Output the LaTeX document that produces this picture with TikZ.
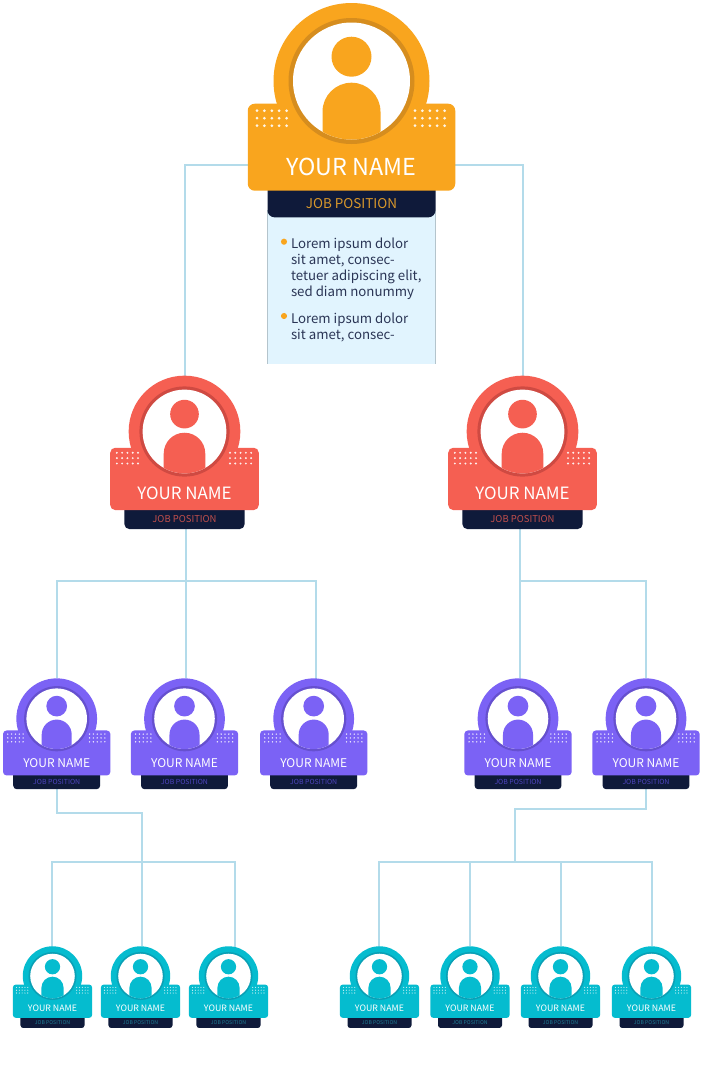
\documentclass[tikz,border=0pt]{standalone}
\usepackage{fontspec}
\setmainfont{Noto Sans CJK SC}
\usetikzlibrary{backgrounds}
\definecolor{orgM}{HTML}{F9A51E}\definecolor{orgD}{HTML}{D68D1E}\definecolor{orgJ}{HTML}{D8972B}
\definecolor{redM}{HTML}{F55F52}\definecolor{redD}{HTML}{CF4A42}\definecolor{redJ}{HTML}{C24F4C}
\definecolor{purM}{HTML}{7B62F5}\definecolor{purD}{HTML}{6650CF}\definecolor{purJ}{HTML}{4F45C0}
\definecolor{teaM}{HTML}{05BCCF}\definecolor{teaD}{HTML}{0AA0B5}\definecolor{teaJ}{HTML}{1F7E95}
\definecolor{bandC}{HTML}{0F1A3A}\definecolor{lineC}{HTML}{B3DBEA}\definecolor{paneC}{HTML}{E1F4FE}
\definecolor{paneE}{HTML}{B4C4CC}\definecolor{txtC}{HTML}{2A3555}
\tikzset{
  conn/.style={draw=lineC,line width=1.5pt},
  blank/.style={inner sep=0pt,outer sep=0pt},
  infotext/.style={blank,anchor=north west,align=left,text=txtC,font=\fontsize{9.95}{12}\selectfont},
  bulletdot/.style={blank,circle,fill=orgM,minimum size=4.6pt}
}
% #1 name #2 cx #3 cy #4 scale #5 main #6 dark #7 job colour #8 name size #9 job size
\newcommand{\staffcard}[9]{%
 \begin{scope}[shift={(#2,#3)},x={#4*0.75pt},y={-#4*0.75pt}]
  \pgfmathsetmacro{\uu}{#4*0.75}
  \node[blank,circle,fill=#5,minimum size=\uu*156pt] (#1ring) at (0,0) {};
  \node[blank,rectangle,fill=bandC,rounded corners=\uu*7pt,minimum width=\uu*168pt,minimum height=\uu*37.3pt] (#1band) at (0,117.65) {};
  \node[blank,rectangle,fill=#5,rounded corners=\uu*7pt,minimum width=\uu*207.5pt,minimum height=\uu*87pt] (#1card) at (0,66.2) {};
  \node[blank,circle,fill=#6,minimum size=\uu*126pt] (#1rim) at (0,0) {};
  \node[blank,circle,fill=white,minimum size=\uu*117pt] (#1face) at (0,0) {};
  \begin{scope}
   \clip (0,0) circle (58.5);
   \fill[#5] (-29,62) -- (-29,30.7) .. controls (-29,14.7) and (-16,1.7) .. (0,1.7) .. controls (16,1.7) and (29,14.7) .. (29,30.7) -- (29,62) -- cycle;
  \end{scope}
  \node[blank,circle,fill=#5,minimum size=\uu*40pt] (#1head) at (0,-24.3) {};
  \foreach \cl in {-94.5,-87.1,-79.7,-72.3,-64.9,63.5,70.9,78.3,85.7,93.1}
   \foreach \rw in {29.7,37.2,44.7}
    \fill[white,opacity=.9] (\cl,\rw) circle (1.5);
  \node[blank,text=white,font=\fontsize{#8}{#8}\selectfont] (#1name) at (0,85.7) {YOUR NAME};
  \node[blank,text=#7,font=\fontsize{#9}{#9}\selectfont] (#1job) at (0,122.5) {JOB POSITION};
 \end{scope}}
\begin{document}
\begin{tikzpicture}[x=0.75pt,y=-0.75pt]
\useasboundingbox (0,0) rectangle (702,1079);
\staffcard{ceo}{351.5}{81}{1}{orgM}{orgD}{orgJ}{17.5}{10.1}
\staffcard{rA}{184.5}{431.5}{.716}{redM}{redD}{redJ}{12.7}{7.1}
\staffcard{rB}{522.5}{431.5}{.716}{redM}{redD}{redJ}{12.7}{7.1}
\staffcard{pA}{56.7}{718.7}{.5175}{purM}{purD}{purJ}{9}{5.2}
\staffcard{pB}{184.5}{718.7}{.5175}{purM}{purD}{purJ}{9}{5.2}
\staffcard{pC}{313.7}{718.7}{.5175}{purM}{purD}{purJ}{9}{5.2}
\staffcard{pD}{518}{718.7}{.5175}{purM}{purD}{purJ}{9}{5.2}
\staffcard{pE}{646}{718.7}{.5175}{purM}{purD}{purJ}{9}{5.2}
\staffcard{tA}{52.5}{976}{.381}{teaM}{teaD}{teaJ}{6.6}{3.9}
\staffcard{tB}{140.5}{976}{.381}{teaM}{teaD}{teaJ}{6.6}{3.9}
\staffcard{tC}{228.5}{976}{.381}{teaM}{teaD}{teaJ}{6.6}{3.9}
\staffcard{tD}{379.5}{976}{.381}{teaM}{teaD}{teaJ}{6.6}{3.9}
\staffcard{tE}{470}{976}{.381}{teaM}{teaD}{teaJ}{6.6}{3.9}
\staffcard{tF}{560.5}{976}{.381}{teaM}{teaD}{teaJ}{6.6}{3.9}
\staffcard{tG}{651.5}{976}{.381}{teaM}{teaD}{teaJ}{6.6}{3.9}
% info text
\node[bulletdot] (bulA) at (284,241.7) {};
\node[bulletdot] (bulB) at (284,316) {};
\node[infotext] (infoA) at (291,237.5) {Lorem ipsum dolor\\sit amet, consec-\\tetuer adipiscing elit,\\sed diam nonummy};
\node[infotext] (infoB) at (291,312.5) {Lorem ipsum dolor\\sit amet, consec-};
\begin{scope}[on background layer]
 \fill[white] (0,0) rectangle (702,1079);
 \coordinate (paneTL) at (267.5,210);
 \coordinate (paneBR) at (435.7,363.5);
 \fill[paneC] (paneTL) rectangle (paneBR);
 \draw[paneE,line width=.7pt] (paneTL) -- (paneTL |- paneBR);
 \draw[paneE,line width=.7pt] (paneBR |- paneTL) -- (paneBR);
 % junctions and drop points hidden behind the rings
 \coordinate (ceoL) at (300,164.5);
 \coordinate (ceoR) at (400,164.5);
 \coordinate (jA) at (186,580.5);
 \coordinate (jB) at (520,580.5);
 \coordinate (jC) at (142,812.7);
 \coordinate (jD) at (142,861.7);
 \coordinate (jE) at (515,808.7);
 \coordinate (jF) at (515,861.7);
 \coordinate (dropPC) at (315.5,682);
 \coordinate (dropTA) at (52,950);
 \coordinate (dropTC) at (235,950);
 \coordinate (dropTD) at (378.5,950);
 \draw[conn] (ceoL) -| (rAring.north);
 \draw[conn] (ceoR) -| (rBring.north);
 % red A
 \draw[conn] (jA |- rAband.south) -- (jA |- pBring.north);
 \draw[conn] (pAring.north) |- (jA);
 \draw[conn] (dropPC) |- (jA);
 % red B
 \draw[conn] (jB |- rBband.south) -- (jB |- pDring.north);
 \draw[conn] (pEring.north) |- (jB);
 % purple A
 \draw[conn] (pAband.south) |- (jC) -- (jD);
 \draw[conn] (jD) -| (dropTA);
 \draw[conn] (jD) -- (jD |- tBring.north);
 \draw[conn] (jD) -| (dropTC);
 % purple E
 \draw[conn] (pEband.south) |- (jE) -- (jF);
 \draw[conn] (jF) -| (dropTD);
 \draw[conn] (jF) -| (tEring.north);
 \draw[conn] (jF) -| (tFring.north);
 \draw[conn] (jF) -| (tGring.north);
\end{scope}
\end{tikzpicture}
\end{document}
